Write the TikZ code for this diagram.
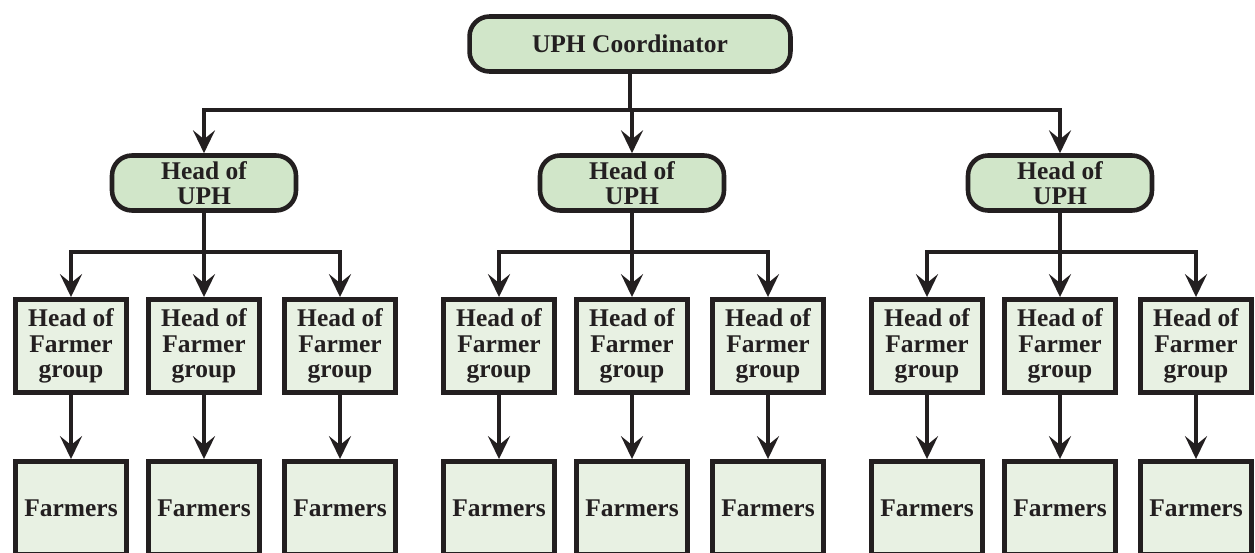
\documentclass[tikz,border=0pt]{standalone}
\usepackage{fontspec}
\setmainfont{Liberation Serif}
\usepackage{tikz}
\usetikzlibrary{arrows.meta}
\definecolor{linecol}{RGB}{35,31,32}
\definecolor{uphgreen}{RGB}{209,230,201}
\definecolor{boxgreen}{RGB}{232,241,227}

\begin{document}
\begin{tikzpicture}[x=0.02cm, y=-0.02cm,
    every node/.style={font=\fontsize{14.5}{14.5}\selectfont\bfseries, align=center, text=linecol},
    uphbox/.style={draw=linecol, fill=uphgreen, line width=2.6pt, rounded corners=0.4cm,
      minimum width=3.68cm, minimum height=1.1cm, inner sep=0pt},
    groupbox/.style={draw=linecol, fill=boxgreen, line width=2.8pt,
      minimum width=2.22cm, minimum height=1.86cm, inner sep=0pt},
    arr/.style={-{Stealth[length=13pt, width=12.5pt, inset=5pt]}, line width=2.5pt, draw=linecol}]
  \clip (0,0) rectangle (1255,553);
  \node[uphbox, minimum width=6.42cm] (coord) at (630,44) {UPH Coordinator};
  \coordinate (bar) at (630,110);
  % one block per UPH
  \foreach \g/\cx in {1/204,2/632,3/1060}{
    \node[uphbox] (uph\g) at (\cx,183) {Head of\\UPH};
    \draw[arr] (coord.south) -- (bar) -| (uph\g.north);
    \coordinate (split\g) at (\cx,252);
    \foreach \k/\dx in {1/-133,2/0,3/136}{
      \node[groupbox] (head\g\k) at (\cx+\dx,346) {Head of\\Farmer\\group};
      \node[groupbox] (farm\g\k) at (\cx+\dx,508) {Farmers};
      \draw[arr] (uph\g.south) -- (split\g) -| (head\g\k.north);
      \draw[arr] (head\g\k) -- (farm\g\k);
    }
  }
\end{tikzpicture}
\end{document}
